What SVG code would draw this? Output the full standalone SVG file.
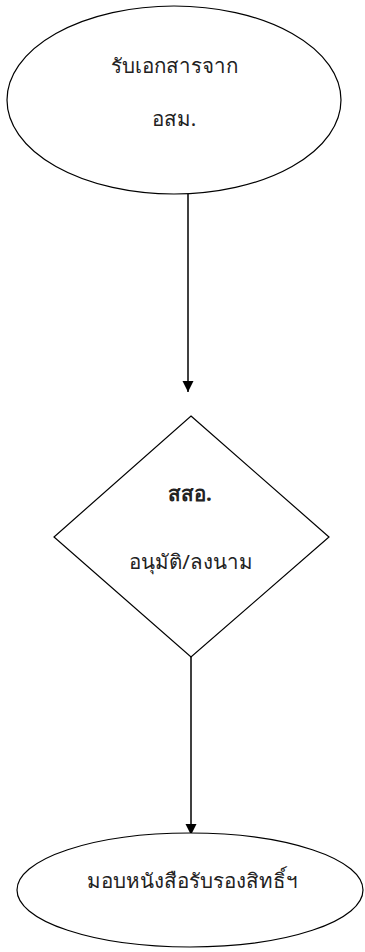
<svg xmlns="http://www.w3.org/2000/svg" width="365" height="952" viewBox="0 0 365 952">
<defs>
<style>
.shape{fill:#fff;stroke:#000;stroke-width:1.2}
.t{font-family:"Noto Sans","DejaVu Sans","Liberation Sans",sans-serif;font-size:20.5px;fill:#222;text-anchor:middle}
.b{font-weight:bold}
.conn{stroke:#000;stroke-width:1.5;fill:none}
</style>
<marker id="arr" viewBox="0 0 10 10" refX="10" refY="5" markerWidth="11" markerHeight="12" markerUnits="userSpaceOnUse" orient="auto">
<path d="M0,0 L10,5 L0,10 z" fill="#000"/>
</marker>
</defs>
<rect width="365" height="952" fill="#fff"/>
<g id="connectors">
<line class="conn" x1="188" y1="194" x2="188" y2="392" marker-end="url(#arr)"/>
<line class="conn" x1="191" y1="657" x2="191" y2="835" marker-end="url(#arr)"/>
</g>
<g id="node-start">
<ellipse class="shape" cx="174" cy="100" rx="167" ry="94"/>
<text class="t" x="174" y="73">รับเอกสารจาก</text>
<text class="t" x="174" y="126">อสม.</text>
</g>
<g id="node-decision">
<polygon class="shape" points="191,416 329,537 191,657 54,537"/>
<text class="t b" x="190" y="501">สสอ.</text>
<text class="t" x="191" y="569">อนุมัติ/ลงนาม</text>
</g>
<g id="node-end">
<ellipse class="shape" cx="190" cy="890" rx="173" ry="57"/>
<text class="t" x="192" y="888">มอบหนังสือรับรองสิทธิ์ฯ</text>
</g>
</svg>
